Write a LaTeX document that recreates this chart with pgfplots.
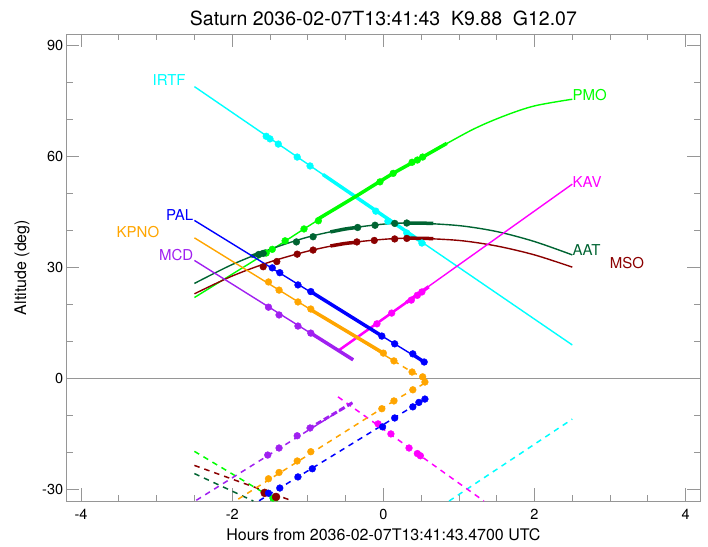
\documentclass[border=0pt]{standalone}
\usepackage{fontspec}
\setmainfont{TeX Gyre Heros}
\usepackage{pgfplots}
\pgfplotsset{compat=1.18}

\definecolor{irtf}{RGB}{0,255,255}
\definecolor{pmo}{RGB}{0,255,0}
\definecolor{aat}{RGB}{0,100,50}
\definecolor{mso}{RGB}{139,0,0}
\definecolor{kav}{RGB}{255,0,255}
\definecolor{pal}{RGB}{0,0,255}
\definecolor{kpno}{RGB}{255,165,0}
\definecolor{mcd}{RGB}{160,32,240}
\definecolor{frame}{RGB}{150,150,150}

\pgfplotsset{
  trk/.style={#1, line width=1.4pt, no marks},
  dsh/.style={#1, line width=1.5pt, no marks, dash pattern=on 5.5pt off 5pt},
  thk/.style={#1, line width=3.5pt, no marks},
  dots/.style={#1, only marks, mark=*, mark size=3.4pt, mark options={solid, fill=#1, draw=#1}},
}

\begin{document}
\begin{tikzpicture}
\path[use as bounding box] (0,0) rectangle (708pt,546pt);
\begin{axis}[
  at={(66.7pt,45pt)}, anchor=south west,
  scale only axis, width=633.3pt, height=467pt,
  xmin=-4.19, xmax=4.19, ymin=-33, ymax=93,
  xtick={-4,-2,0,2,4}, ytick={-30,0,30,60,90},
  minor x tick num=3, minor y tick num=2,
  tick pos=both, tick align=inside,
  major tick length=12.7pt, minor tick length=6pt,
  axis line style={frame, line width=0.8pt},
  every tick/.style={frame, line width=0.8pt},
  ticklabel style={font=\fontsize{14.5}{16}\selectfont},
  xticklabel style={yshift=-5pt},
  /pgf/number format/assume math mode=true,
]
% horizon
\addplot[frame, line width=0.8pt, no marks] coordinates {(-4.19,0) (4.19,0)};

% IRTF
\addplot[trk=irtf] coordinates {(-2.5,78.8) (2.5,9.1)};
\addplot[thk=irtf] coordinates {(-0.8,55.1) (0.55,36.3)};
\addplot[dots=irtf] coordinates {(-1.55,65.4) (-1.50,64.7) (-1.39,63.3) (-1.14,59.8) (-0.97,57.4) (-0.1,45.2) (0.06,42.5) (0.31,39.3) (0.51,36.6)};
\addplot[dsh=irtf] coordinates {(0.87,-33) (2.5,-10.9)};

% PMO
\addplot[trk=pmo, smooth] coordinates {(-2.5,21.9) (-1.47,34.9) (-1.05,40.4) (-0.38,49.0) (0.13,55.4) (0.52,59.8) (1.17,67.1) (1.6,70.9) (2.0,73.6) (2.5,75.4)};
\addplot[thk=pmo, smooth] coordinates {(-0.88,42.9) (-0.38,49.0) (0.13,55.4) (0.52,59.8) (0.84,63.5)};
\addplot[dots=pmo] coordinates {(-1.55,33.9) (-1.47,34.9) (-1.30,37.2) (-1.05,40.4) (-0.86,42.6) (-0.045,53.1) (0.13,55.4) (0.38,58.4) (0.45,59.0) (0.52,59.8)};
\addplot[dsh=pmo] coordinates {(-2.5,-19.6) (-1.4,-33)};
\addplot[dots=pmo] coordinates {(-1.46,-32.2)};

% AAT
\addplot[trk=aat, smooth] coordinates {(-2.5,25.7) (-2.0,30.8) (-1.5,34.9) (-1.0,38.2) (-0.5,40.4) (0,41.7) (0.4,42.0) (1.0,41.3) (1.5,39.7) (2.0,37.0) (2.5,33.4)};
\addplot[thk=aat] coordinates {(-1.75,33.0) (-1.55,34.5)};
\addplot[thk=aat, smooth] coordinates {(-0.7,39.6) (-0.5,40.4) (-0.35,40.8)};
\addplot[thk=aat, smooth] coordinates {(0.3,41.95) (0.4,42.0) (0.66,41.9)};
\addplot[dots=aat] coordinates {(-1.65,33.5) (-1.59,33.8) (-1.15,36.9) (-0.93,38.3) (-0.34,40.8) (-0.11,41.4) (0.15,41.9) (0.31,42.0)};
\addplot[dsh=aat] coordinates {(-2.5,-25.6) (-1.72,-33)};

% MSO
\addplot[trk=mso, smooth] coordinates {(-2.5,22.9) (-2.0,27.7) (-1.5,31.5) (-1.0,34.4) (-0.5,36.5) (0,37.6) (0.4,37.9) (1.0,37.3) (1.5,35.8) (2.0,33.4) (2.5,30.1)};
\addplot[thk=mso, smooth] coordinates {(-0.7,35.8) (-0.5,36.5) (-0.35,36.8)};
\addplot[thk=mso, smooth] coordinates {(0.3,37.9) (0.4,37.9) (0.66,37.8)};
\addplot[dots=mso] coordinates {(-1.59,30.2) (-1.41,31.6) (-1.14,33.6) (-0.93,34.7) (-0.35,36.9) (-0.12,37.3) (0.15,37.7) (0.31,37.85)};
\addplot[dsh=mso] coordinates {(-2.5,-23.4) (-1.2,-33)};
\addplot[dots=mso, mark size=4pt] coordinates {(-1.57,-30.8) (-1.42,-31.9)};

% KAV
\addplot[trk=kav] coordinates {(-0.6,7.5) (2.5,52.5)};
\addplot[kav, line width=2.5pt, no marks] coordinates {(-0.6,7.5) (0.3,20.5)};
\addplot[thk=kav] coordinates {(0.3,20.5) (0.6,24.8)};
\addplot[dots=kav] coordinates {(-0.085,14.8) (0.11,17.7) (0.37,21.2) (0.45,22.5) (0.51,23.4)};
\addplot[dsh=kav] coordinates {(-0.6,-4.9) (1.33,-33)};
\addplot[dots=kav] coordinates {(-0.07,-12.2) (0.1,-14.9) (0.34,-18.7) (0.45,-20.2) (0.49,-20.8)};

% PAL
\addplot[trk=pal] coordinates {(-2.5,42.7) (0.54,4.5)};
\addplot[thk=pal] coordinates {(-0.93,23.1) (-0.04,11.8)};
\addplot[thk=pal] coordinates {(0.39,6.5) (0.54,4.5)};
\addplot[dots=pal] coordinates {(-1.47,29.9) (-1.37,28.6) (-1.13,25.3) (-0.96,23.5) (-0.02,11.5) (0.15,9.4) (0.39,6.7) (0.54,4.5)};
\addplot[dsh=pal] coordinates {(0.55,-5.5) (-1.65,-33)};
\addplot[dots=pal] coordinates {(0.55,-5.5) (0.47,-6.4) (0.39,-7.6) (0.15,-10.6) (-0.01,-13.0) (-0.94,-24.3) (-1.13,-26.5) (-1.37,-29.5) (-1.52,-30.9)};

% KPNO
\addplot[trk=kpno] coordinates {(-2.5,38.0) (0.14,4.8)};
\addplot[thk=kpno] coordinates {(-0.96,18.6) (0.0,6.9)};
\addplot[dots=kpno] coordinates {(-1.52,26.1) (-1.38,23.9) (-1.13,20.7) (-0.96,18.8) (0.0,6.9) (0.14,4.8)};
\addplot[dsh=kpno, smooth] coordinates {(0.14,4.8) (0.38,1.8) (0.53,0.4) (0.57,-0.6) (0.50,-1.8) (0.39,-3.0) (0.14,-6.0)};
\addplot[dsh=kpno] coordinates {(0.14,-6.0) (-1.96,-33)};
\addplot[dots=kpno] coordinates {(0.38,1.8) (0.52,0.5) (0.55,-0.9) (0.39,-3.0) (0.14,-6.0) (-0.02,-8.1) (-0.96,-19.7) (-1.14,-22.2) (-1.38,-25.3) (-1.52,-27.0)};

% MCD
\addplot[trk=mcd] coordinates {(-2.5,31.9) (-0.40,5.1)};
\addplot[thk=mcd] coordinates {(-0.96,12.3) (-0.40,5.1)};
\addplot[dots=mcd] coordinates {(-1.52,19.3) (-1.38,17.2) (-1.13,14.2) (-0.96,12.3)};
\addplot[dsh=mcd] coordinates {(-0.41,-6.5) (-2.49,-33)};
\addplot[mcd, line width=3pt, no marks, dash pattern=on 6pt off 3pt] coordinates {(-0.41,-6.5) (-0.97,-13.3)};
\addplot[dots=mcd] coordinates {(-0.97,-13.3) (-1.14,-15.4) (-1.38,-18.7) (-1.53,-20.6)};

% station names
\begin{scope}[every node/.style={font=\fontsize{15}{17}\selectfont, inner sep=1pt}]
\node[irtf, anchor=east] at (axis cs:-2.6,80.6) {IRTF};
\node[pal, anchor=east] at (axis cs:-2.5,44.2) {PAL};
\node[kpno, anchor=east] at (axis cs:-2.95,39.6) {KPNO};
\node[mcd, anchor=east] at (axis cs:-2.5,33.4) {MCD};
\node[pmo, anchor=west] at (axis cs:2.49,76.5) {PMO};
\node[kav, anchor=west] at (axis cs:2.49,53.1) {KAV};
\node[aat, anchor=west] at (axis cs:2.49,34.7) {AAT};
\node[mso, anchor=west] at (axis cs:2.98,31.2) {MSO};
\end{scope}
\end{axis}
\node[font=\fontsize{19.5}{22}\selectfont] at (383.4pt,528pt) {Saturn 2036-02-07T13:41:43\ \ K9.88\ \ G12.07};
\node[font=\fontsize{16}{18}\selectfont, anchor=base] at (383.4pt,6pt) {Hours from 2036-02-07T13:41:43.4700 UTC};
\node[font=\fontsize{16}{18}\selectfont, rotate=90] at (22pt,278.5pt) {Altitude (deg)};
\end{tikzpicture}
\end{document}
